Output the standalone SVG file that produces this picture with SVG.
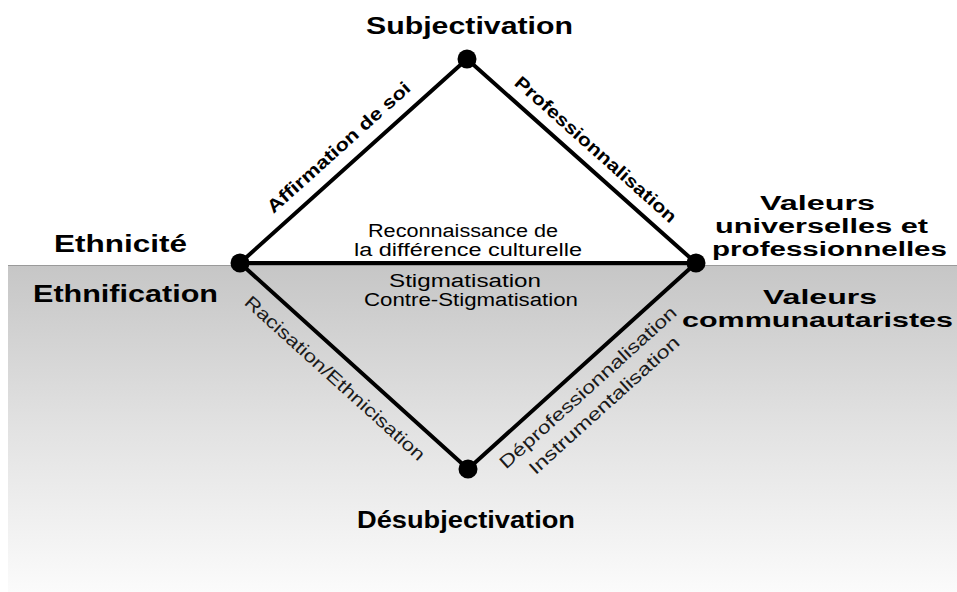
<svg xmlns="http://www.w3.org/2000/svg" width="957" height="592" viewBox="0 0 957 592">
<defs>
<linearGradient id="bg" x1="0" y1="0" x2="0" y2="1">
<stop offset="0" stop-color="#c6c6c6"/>
<stop offset="0.5" stop-color="#e2e2e2"/>
<stop offset="1" stop-color="#fbfbfb"/>
</linearGradient>
</defs>
<style>
.title{font-family:"Liberation Sans",Arial,sans-serif;font-weight:bold;font-size:23px;fill:#000;text-anchor:middle}
.val{font-family:"Liberation Sans",Arial,sans-serif;font-weight:bold;font-size:20px;fill:#000;text-anchor:middle}
.edgeb{font-family:"Liberation Sans",Arial,sans-serif;font-weight:bold;font-size:18px;fill:#000;text-anchor:middle}
.edgen{font-family:"Liberation Sans",Arial,sans-serif;font-size:18px;fill:#1a1a1a;text-anchor:middle}
.mid{font-family:"Liberation Sans",Arial,sans-serif;font-size:18px;fill:#000;text-anchor:middle}
.line{stroke:#000;stroke-width:4;fill:none;stroke-linecap:round}
.node{fill:#000}
</style>
<rect width="957" height="592" fill="#fff"/>
<rect x="8" y="265" width="949" height="327" fill="url(#bg)"/>
<line x1="8" y1="265.5" x2="957" y2="265.5" stroke="#9a9a9a" stroke-width="1"/>

<g id="connectors">
<line class="line" x1="240" y1="263" x2="467" y2="59"/>
<line class="line" x1="467" y1="59" x2="696" y2="263"/>
<line class="line" x1="240" y1="263" x2="696" y2="263"/>
<line class="line" x1="240" y1="263" x2="468" y2="469"/>
<line class="line" x1="696" y1="263" x2="468" y2="469"/>
<text class="edgeb" transform="translate(353.5,161) rotate(-41.9)" x="-2" y="-14" textLength="186" lengthAdjust="spacingAndGlyphs">Affirmation de soi</text>
<text class="edgeb" transform="translate(581.5,161) rotate(41.7)" x="3" y="-12" textLength="210" lengthAdjust="spacingAndGlyphs">Professionnalisation</text>
<text class="edgen" transform="translate(354,366) rotate(42.1)" x="-6" y="28" textLength="236" lengthAdjust="spacingAndGlyphs">Racisation/Ethnicisation</text>
<text class="edgen" transform="translate(582,366) rotate(-42.1)" x="-10" y="26" textLength="232" lengthAdjust="spacingAndGlyphs">Déprofessionnalisation</text>
<text class="edgen" transform="translate(582,366) rotate(-42.1)" x="-10" y="50" textLength="196" lengthAdjust="spacingAndGlyphs">Instrumentalisation</text>
<text class="mid" x="463" y="237" textLength="190" lengthAdjust="spacingAndGlyphs">Reconnaissance de</text>
<text class="mid" x="468" y="256" textLength="228" lengthAdjust="spacingAndGlyphs">la différence culturelle</text>
<text class="mid" x="465" y="287" textLength="152" lengthAdjust="spacingAndGlyphs" fill="#1a1a1a">Stigmatisation</text>
<text class="mid" x="471" y="306" textLength="214" lengthAdjust="spacingAndGlyphs" fill="#1a1a1a">Contre-Stigmatisation</text>
</g>

<g id="subjectivation">
<circle class="node" cx="467" cy="59" r="9.5"/>
<text class="title" x="469.5" y="34" textLength="207" lengthAdjust="spacingAndGlyphs">Subjectivation</text>
</g>
<g id="ethnicite">
<circle class="node" cx="240" cy="263" r="9.5"/>
<text class="title" x="120.5" y="252" textLength="133" lengthAdjust="spacingAndGlyphs">Ethnicité</text>
<text class="title" x="125.5" y="302" textLength="185" lengthAdjust="spacingAndGlyphs">Ethnification</text>
</g>
<g id="valeurs">
<circle class="node" cx="696" cy="263" r="9.5"/>
<text class="val" x="817.5" y="210" textLength="115" lengthAdjust="spacingAndGlyphs">Valeurs</text>
<text class="val" x="821.5" y="233" textLength="213" lengthAdjust="spacingAndGlyphs">universelles et</text>
<text class="val" x="829.5" y="256" textLength="235" lengthAdjust="spacingAndGlyphs">professionnelles</text>
<text class="val" x="820" y="304" textLength="114" lengthAdjust="spacingAndGlyphs">Valeurs</text>
<text class="val" x="817.5" y="327" textLength="271" lengthAdjust="spacingAndGlyphs">communautaristes</text>
</g>
<g id="desubjectivation">
<circle class="node" cx="468" cy="469" r="9.5"/>
<text class="title" x="466" y="528" textLength="218" lengthAdjust="spacingAndGlyphs">Désubjectivation</text>
</g>
</svg>
